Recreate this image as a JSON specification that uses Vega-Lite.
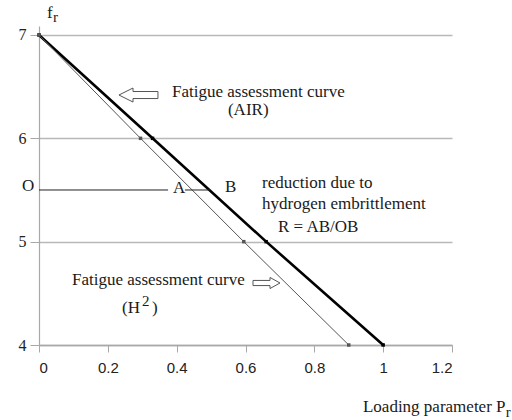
{
  "$schema": "https://vega.github.io/schema/vega-lite/v6.json",
  "width": 413,
  "height": 319,
  "autosize": {"type": "none"},
  "padding": {"left": 39, "top": 26, "right": 60, "bottom": 75},
  "background": "white",
  "config": {"view": {"stroke": null}},
  "datasets": {
    "curves": [
      {"s": "air", "x": 0, "y": 7}, {"s": "air", "x": 0.33, "y": 6}, {"s": "air", "x": 0.66, "y": 5}, {"s": "air", "x": 1, "y": 4},
      {"s": "h2", "x": 0, "y": 7}, {"s": "h2", "x": 0.295, "y": 6}, {"s": "h2", "x": 0.595, "y": 5}, {"s": "h2", "x": 0.9, "y": 4}
    ],
    "ob": [
      {"x": 0, "x2": 0.375, "y": 5.5},
      {"x": 0.424, "x2": 0.497, "y": 5.5}
    ],
    "arrows": [
      {"dir": "left", "x": 0.289, "y": 6.419},
      {"dir": "right", "x": 0.661, "y": 4.6}
    ],
    "texts": [
      {"label": "Fatigue assessment curve", "x": 0.3864, "y": 6.4},
      {"label": "(AIR)", "x": 0.549, "y": 6.228},
      {"label": "reduction due to", "x": 0.6479, "y": 5.519},
      {"label": "hydrogen embrittlement", "x": 0.6479, "y": 5.316},
      {"label": "R = AB/OB", "x": 0.6944, "y": 5.0935},
      {"label": "Fatigue assessment curve", "x": 0.0959, "y": 4.5806},
      {"label": "(H", "x": 0.2411, "y": 4.3097},
      {"label": ")", "x": 0.3283, "y": 4.3097},
      {"label": "O", "x": -0.0494, "y": 5.49},
      {"label": "A", "x": 0.3893, "y": 5.471},
      {"label": "B", "x": 0.5404, "y": 5.481},
      {"label": "f", "x": 0.023, "y": 7.1645},
      {"label": "Loading parameter P", "x": 0.9413, "y": 3.3516}
    ],
    "small": [
      {"label": "2", "x": 0.2992, "y": 4.3774},
      {"label": "r", "x": 0.0407, "y": 7.126},
      {"label": "r", "x": 1.356, "y": 3.303}
    ]
  },
  "layer": [
    {
      "data": {"name": "curves"},
      "mark": {"type": "line", "clip": false},
      "encoding": {
        "x": {
          "field": "x", "type": "quantitative",
          "scale": {"domain": [0, 1.2], "nice": false, "zero": false},
          "axis": {
            "title": null, "values": [0, 0.2, 0.4, 0.6, 0.8, 1, 1.2], "grid": false,
            "labelFont": "Liberation Sans", "labelFontSize": 15, "labelColor": "#222",
            "tickSize": 7, "tickColor": "#a8a8a8", "domainColor": "#a8a8a8", "domainWidth": 1.5,
            "labelPadding": 8, "labelExpr": "datum.value == 1 ? '1' : datum.value == 0 ? '0' : format(datum.value, '.1f')"
          }
        },
        "y": {
          "field": "y", "type": "quantitative",
          "scale": {"domain": [4, 7.087], "nice": false, "zero": false},
          "axis": {
            "title": null, "values": [4, 5, 6, 7], "grid": true,
            "gridColor": "#b8b8b8", "gridWidth": 1.5,
            "labelFont": "Liberation Serif", "labelFontSize": 16, "labelColor": "#222",
            "tickSize": 9, "tickColor": "#a8a8a8", "domainColor": "#a8a8a8", "domainWidth": 1.2,
            "labelPadding": 4, "format": "d"
          }
        },
        "detail": {"field": "s"},
        "color": {"field": "s", "type": "nominal", "scale": {"domain": ["air", "h2"], "range": ["#000000", "#555555"]}, "legend": null},
        "strokeWidth": {"field": "s", "type": "nominal", "scale": {"domain": ["air", "h2"], "range": [2.6, 1]}, "legend": null}
      }
    },
    {
      "data": {"name": "curves"},
      "mark": {"type": "point", "shape": "square", "filled": true, "size": 12, "opacity": 1},
      "encoding": {
        "x": {"field": "x", "type": "quantitative"},
        "y": {"field": "y", "type": "quantitative"},
        "color": {"field": "s", "type": "nominal", "scale": {"domain": ["air", "h2"], "range": ["#000000", "#555555"]}, "legend": null}
      }
    },
    {
      "data": {"name": "ob"},
      "mark": {"type": "rule", "color": "#222222", "strokeWidth": 1},
      "encoding": {
        "x": {"field": "x", "type": "quantitative"},
        "x2": {"field": "x2"},
        "y": {"field": "y", "type": "quantitative"}
      }
    },
    {
      "data": {"name": "arrows"},
      "transform": [{"filter": "datum.dir == 'left'"}],
      "mark": {"type": "point", "shape": "M-1,0L-0.28,-0.36L-0.28,-0.18L1,-0.18L1,0.18L-0.28,0.18L-0.28,0.36Z", "size": 1521, "filled": false, "fill": "white", "stroke": "#555555", "strokeWidth": 1, "opacity": 1},
      "encoding": {
        "x": {"field": "x", "type": "quantitative"},
        "y": {"field": "y", "type": "quantitative"}
      }
    },
    {
      "data": {"name": "arrows"},
      "transform": [{"filter": "datum.dir == 'right'"}],
      "mark": {"type": "point", "shape": "M1,0L0.26,-0.41L0.26,-0.19L-1,-0.19L-1,0.19L0.26,0.19L0.26,0.41Z", "size": 729, "filled": false, "fill": "white", "stroke": "#555555", "strokeWidth": 1, "opacity": 1},
      "encoding": {
        "x": {"field": "x", "type": "quantitative"},
        "y": {"field": "y", "type": "quantitative"}
      }
    },
    {
      "data": {"name": "texts"},
      "mark": {"type": "text", "font": "Liberation Serif", "fontSize": 17, "align": "left", "baseline": "alphabetic", "color": "#1a1a1a"},
      "encoding": {
        "x": {"field": "x", "type": "quantitative"},
        "y": {"field": "y", "type": "quantitative"},
        "text": {"field": "label"}
      }
    },
    {
      "data": {"name": "small"},
      "mark": {"type": "text", "font": "Liberation Serif", "fontSize": 15, "align": "left", "baseline": "alphabetic", "color": "#1a1a1a"},
      "encoding": {
        "x": {"field": "x", "type": "quantitative"},
        "y": {"field": "y", "type": "quantitative"},
        "text": {"field": "label"}
      }
    }
  ]
}
